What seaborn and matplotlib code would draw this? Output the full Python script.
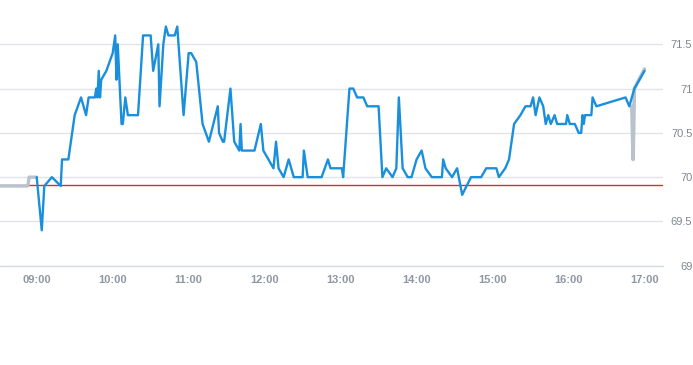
import pandas as pd
import numpy as np
import matplotlib
matplotlib.use('Agg')
import matplotlib.pyplot as plt
import seaborn as sns

# ---------------------
# data
# ---------------------

# main session, blue line
times = ['09:00', '09:04', '09:06', '09:12', '09:19', '09:20', '09:25', '09:28',
         '09:30', '09:35', '09:39', '09:41', '09:46', '09:47', '09:48', '09:49',
         '09:50', '09:51', '09:55', '10:00', '10:02', '10:03', '10:04', '10:07',
         '10:08', '10:10', '10:12', '10:20', '10:24', '10:30', '10:32', '10:36',
         '10:37', '10:40', '10:42', '10:44', '10:49', '10:51', '10:56', '11:00',
         '11:02', '11:06', '11:11', '11:16', '11:23', '11:24', '11:27', '11:28',
         '11:33', '11:36', '11:40', '11:41', '11:42', '11:52', '11:57', '11:59',
         '12:07', '12:09', '12:11', '12:15', '12:19', '12:23', '12:30', '12:31',
         '12:34', '12:45', '12:50', '12:52', '13:01', '13:02', '13:07', '13:10',
         '13:13', '13:18', '13:21', '13:30', '13:33', '13:36', '13:41', '13:44',
         '13:46', '13:49', '13:53', '13:56', '14:00', '14:04', '14:07', '14:12',
         '14:20', '14:21', '14:23', '14:28', '14:32', '14:36', '14:43', '14:51',
         '14:55', '15:03', '15:05', '15:10', '15:13', '15:17', '15:22', '15:26',
         '15:30', '15:32', '15:34', '15:37', '15:40', '15:42', '15:44', '15:46',
         '15:49', '15:51', '15:58', '15:59', '16:01', '16:05', '16:08', '16:10',
         '16:11', '16:12', '16:13', '16:18', '16:19', '16:22', '16:45', '16:48',
         '16:52', '17:00']
prices = [70.0, 69.4, 69.9, 70.0, 69.9, 70.2, 70.2, 70.5,
          70.7, 70.9, 70.7, 70.9, 70.9, 71.0, 70.9, 71.2,
          70.9, 71.1, 71.2, 71.4, 71.6, 71.1, 71.5, 70.6,
          70.6, 70.9, 70.7, 70.7, 71.6, 71.6, 71.2, 71.5,
          70.8, 71.5, 71.7, 71.6, 71.6, 71.7, 70.7, 71.4,
          71.4, 71.3, 70.6, 70.4, 70.8, 70.5, 70.4, 70.4,
          71.0, 70.4, 70.3, 70.6, 70.3, 70.3, 70.6, 70.3,
          70.1, 70.4, 70.1, 70.0, 70.2, 70.0, 70.0, 70.3,
          70.0, 70.0, 70.2, 70.1, 70.1, 70.0, 71.0, 71.0,
          70.9, 70.9, 70.8, 70.8, 70.0, 70.1, 70.0, 70.1,
          70.9, 70.1, 70.0, 70.0, 70.2, 70.3, 70.1, 70.0,
          70.0, 70.2, 70.1, 70.0, 70.1, 69.8, 70.0, 70.0,
          70.1, 70.1, 70.0, 70.1, 70.2, 70.6, 70.7, 70.8,
          70.8, 70.9, 70.7, 70.9, 70.8, 70.6, 70.7, 70.6,
          70.7, 70.6, 70.6, 70.7, 70.6, 70.6, 70.5, 70.5,
          70.7, 70.6, 70.7, 70.7, 70.9, 70.8, 70.9, 70.8,
          71.0, 71.2]

# pre / post session, grey line
pre_times = ['08:30', '08:53', '08:54', '09:00']
pre_prices = [69.9, 69.9, 70.0, 70.0]
post_times = ['16:50', '16:51', '16:52', '17:00']
post_prices = [70.8, 70.2, 71.0, 71.22]

prev_close = 69.91

hour_ticks = ['09:00', '10:00', '11:00', '12:00', '13:00',
              '14:00', '15:00', '16:00', '17:00']
price_ticks = [69, 69.5, 70, 70.5, 71, 71.5]
price_labels = ['69', '69.5', '70', '70.5', '71', '71.5']


def to_hours(t):
    h, m = t.split(':')
    return int(h) + int(m) / 60


df = pd.DataFrame({'t': [to_hours(t) for t in times], 'price': prices})
pre = pd.DataFrame({'t': [to_hours(t) for t in pre_times], 'price': pre_prices})
post = pd.DataFrame({'t': [to_hours(t) for t in post_times], 'price': post_prices})

# ---------------------
# plot
# ---------------------

sns.set_style('white')
plt.rcParams['font.family'] = ['Liberation Sans', 'DejaVu Sans']

line_col = '#d5dbe2'

fig = plt.figure(figsize=(6.93, 3.65), dpi=100)
ax = fig.add_axes([0, 0.272, 0.957, 0.728])

ax.axhline(prev_close, color='#d62f2f', lw=1, zorder=2)
sns.lineplot(data=pre, x='t', y='price', ax=ax, color='#b9c3cd',
             lw=2.4, zorder=3, estimator=None, sort=False)
sns.lineplot(data=post, x='t', y='price', ax=ax, color='#b9c3cd',
             lw=2.6, zorder=3, estimator=None, sort=False)
sns.lineplot(data=df, x='t', y='price', ax=ax, color='#1a8fdc',
             lw=1.7, zorder=4, estimator=None, sort=False)

ax.set_xlim(8.517, 17.246)
ax.set_ylim(69, 72)

ax.set_xticks([to_hours(t) for t in hour_ticks])
ax.set_xticklabels(hour_ticks)
ax.set_yticks(price_ticks)
ax.set_yticklabels(price_labels)

ax.yaxis.tick_right()
ax.grid(axis='y', color='#e1e5ea', lw=1)
ax.grid(axis='x', visible=False)

for s in ['top', 'left', 'right']:
    ax.spines[s].set_visible(False)
ax.spines['bottom'].set_color(line_col)
ax.spines['bottom'].set_linewidth(1)

ax.tick_params(axis='x', length=4, width=1, color=line_col, pad=2.5,
               labelsize=8, labelcolor='#8e97a3')
ax.tick_params(axis='y', length=0, pad=21, labelsize=8, labelcolor='#7f8792')
for lab in ax.get_xticklabels():
    lab.set_fontweight('bold')
for lab in ax.get_yticklabels():
    lab.set_horizontalalignment('right')

ax.set_xlabel('')
ax.set_ylabel('')

plt.savefig('out.png', dpi=100)
